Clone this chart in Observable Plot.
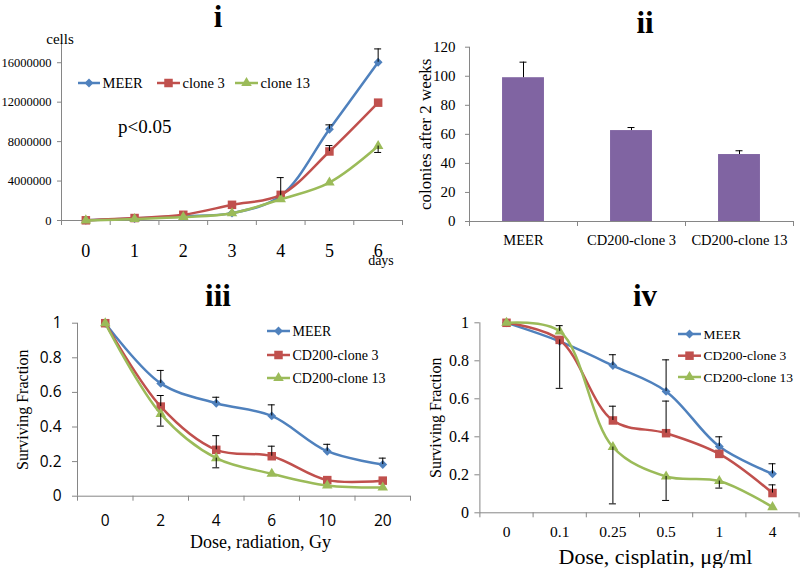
<!DOCTYPE html>
<html><head><meta charset="utf-8">
<script src="https://cdn.jsdelivr.net/npm/d3@7"></script>
<script src="https://cdn.jsdelivr.net/npm/@observablehq/plot@0.6"></script>
<style>
body{margin:0;background:#fff;}
#root{position:relative;width:800px;height:568px;overflow:hidden;background:#fff;}
#root > svg{position:absolute;margin:0;}
</style></head><body><div id="root"></div>
<script>
// ---------------- DATA ----------------
const seriesShort = ["MEER", "clone 3", "clone 13"];
const seriesLong = ["MEER", "CD200-clone 3", "CD200-clone 13"];
const colors = ["#4F81BD", "#C0504D", "#9BBB59"];
const symbols = ["diamond2", "square", "triangle"];

// (i) growth curve
const growthDays = ["0", "1", "2", "3", "4", "5", "6"];
const growthMEER    = [20000, 200000, 450000, 750000, 2500000, 9250000, 16050000];
const growthClone3  = [20000, 250000, 580000, 1590000, 2600000, 7000000, 11950000];
const growthClone13 = [10000, 150000, 350000, 740000, 2150000, 3850000, 7550000];
const growthErrMEER    = [null, null, null, null, 4350000, 9700000, 17400000];
const growthErrClone3  = [null, null, null, null, null, 7600000, null];
const growthErrClone13 = [null, null, null, null, null, null, 6900000];
const growthYTicks = [0, 4000000, 8000000, 12000000, 16000000];

// (ii) colonies
const colonyGroups = ["MEER", "CD200-clone 3", "CD200-clone 13"];
const colonyValues = [99, 62.6, 46.1];
const colonyErrTop = [109.7, 64.7, 48.7];
const colonyYTicks = [0, 20, 40, 60, 80, 100, 120];

// (iii) radiation
const radDoses = ["0", "2", "4", "6", "10", "20"];
const radMEER    = [1, 0.652, 0.537, 0.464, 0.26, 0.183];
const radClone3  = [1, 0.518, 0.268, 0.231, 0.093, 0.09];
const radClone13 = [1, 0.476, 0.22, 0.13, 0.062, 0.05];
const radErrMEER    = [null, 0.727, 0.572, 0.528, 0.30, 0.22];
const radErrClone3  = [null, 0.582, 0.35, 0.289, null, null];
const radErrClone13 = [null, 0.405, 0.164, null, null, null];

// (iv) cisplatin
const cisDoses = ["0", "0.1", "0.25", "0.5", "1", "4"];
const cisMEER    = [1, 0.902, 0.775, 0.639, 0.349, 0.205];
const cisClone3  = [1, 0.91, 0.486, 0.419, 0.31, 0.104];
const cisClone13 = [1, 0.955, 0.346, 0.191, 0.167, 0.03];
const cisErrMEER    = [null, null, 0.832, 0.805, 0.40, 0.258];
const cisErrClone3  = [null, 0.655, 0.561, 0.588, null, 0.147];
const cisErrClone13 = [null, 0.985, 0.047, 0.065, 0.13, null];

const fractionYTicks = [0, 0.2, 0.4, 0.6, 0.8, 1];

// ---------------- STYLE ----------------
const GRAY = "#868686";
const PURPLE = "#8064A2";
const SERIF = "Liberation Serif, Times New Roman, serif";
const SANS = "Open Sans, Noto Sans, sans-serif";
const symbolR = [4, 4.8, 3.9];
const d3Symbols = [d3.symbolDiamond2, d3.symbolSquare, d3.symbolTriangle];
const CAP = 3.5;

const root = document.getElementById("root");

function rowsFor(cats, values, errs) {
  return cats.map((c, i) => ({i, cat: c, value: values[i], err: errs ? errs[i] : null}));
}

function axes(o) {
  const n = o.cats.length;
  const bounds = d3.range(n + 1).map(j => j - 0.5);
  return [
    Plot.ruleY([0], {stroke: GRAY}),
    Plot.ruleX([-0.5], {stroke: GRAY}),
    Plot.axisY({ticks: o.yTicks, tickSize: o.yTickSize, tickPadding: o.yPad, stroke: GRAY,
      tickFormat: d => String(d), fontSize: o.yFont, fontFamily: o.tickFamily, label: null}),
    Plot.axisX({ticks: bounds, tickSize: 5, stroke: GRAY, tickFormat: () => "", label: null}),
    Plot.axisX({ticks: d3.range(n), tickSize: 0, tickPadding: o.xPad, tickFormat: i => o.cats[i],
      fontSize: o.xFont, fontFamily: o.tickFamily, label: null})
  ];
}

function errorMarks(rows) {
  const e = rows.filter(d => d.err != null);
  return [
    Plot.ruleX(e, {x: "i", y1: "value", y2: "err", stroke: "black", strokeWidth: 1}),
    Plot.ruleY(e, {x1: "i", x2: "i", y: "err", insetLeft: -CAP, insetRight: -CAP, stroke: "black", strokeWidth: 1})
  ];
}

function yTitle(label, dx, fs) {
  return Plot.text([label], {text: d => d, frameAnchor: "left", textAnchor: "middle", lineAnchor: "middle",
    dx, rotate: -90, fontSize: fs, fontFamily: SERIF});
}
function xTitle(label, dx, dy, fs) {
  return Plot.text([label], {text: d => d, frameAnchor: "bottom", textAnchor: "middle", lineAnchor: "middle",
    dx, dy, fontSize: fs, fontFamily: SERIF});
}

function linePanel(o) {
  const marks = axes(o);
  const all = o.series.map(s => rowsFor(o.cats, s.values, s.errs));
  all.forEach((rows, k) => {
    marks.push(Plot.line(rows, {x: "i", y: "value", stroke: colors[k], strokeWidth: 2.5, curve: "catmull-rom"}));
    marks.push(Plot.dot(rows, {x: "i", y: "value", symbol: symbols[k], fill: colors[k], stroke: "none", r: symbolR[k]}));
  });
  all.forEach(rows => marks.push(...errorMarks(rows)));
  marks.push(...(o.extra || []));
  const svg = Plot.plot({
    width: o.width, height: o.height,
    marginLeft: o.m[0], marginRight: o.m[1], marginTop: o.m[2], marginBottom: o.m[3],
    x: {type: "linear", domain: [-0.5, o.cats.length - 0.5]},
    y: {type: "linear", domain: o.yDomain},
    style: {fontFamily: SERIF, fontSize: "13px", color: "black", background: "transparent", overflow: "visible"},
    marks
  });
  svg.style.left = o.left + "px"; svg.style.top = o.top + "px";
  root.appendChild(svg);
}

// ---- Panel i ----
linePanel({
  left: 0, top: 0, width: 410, height: 270, m: [61, 8, 42.5, 50],
  cats: growthDays, yDomain: [0, 18000000], yTicks: growthYTicks,
  yTickSize: 4, yPad: 6, yFont: 12.5, xPad: 23.5, xFont: 18, tickFamily: SERIF,
  series: [
    {values: growthMEER, errs: growthErrMEER},
    {values: growthClone3, errs: growthErrClone3},
    {values: growthClone13, errs: growthErrClone13}
  ]
});

// ---- Panel ii ----
(function() {
  const o = {cats: colonyGroups, yTicks: colonyYTicks, yTickSize: 4, yPad: 10, yFont: 15, xPad: 13.3, xFont: 14.5, tickFamily: SERIF};
  const rows = colonyGroups.map((g, i) => ({i, cat: g, value: colonyValues[i], err: colonyErrTop[i]}));
  const BAR_HALF = 0.194;
  const marks = [
    Plot.rect(rows, {x1: d => d.i - BAR_HALF, x2: d => d.i + BAR_HALF, y1: 0, y2: "value", fill: PURPLE}),
    ...axes(o),
    ...errorMarks(rows),
    yTitle("colonies after 2 weeks", -44, 17)
  ];
  const svg = Plot.plot({
    width: 400, height: 270, marginLeft: 69, marginRight: 7, marginTop: 46.7, marginBottom: 49,
    x: {type: "linear", domain: [-0.5, 2.5]},
    y: {type: "linear", domain: [0, 120]},
    style: {fontFamily: SERIF, fontSize: "13px", color: "black", background: "transparent", overflow: "visible"},
    marks
  });
  svg.style.left = "400px"; svg.style.top = "0px";
  root.appendChild(svg);
})();

// ---- Panel iii ----
linePanel({
  left: 0, top: 270, width: 412, height: 298, m: [77, 2, 52.7, 72.3],
  cats: radDoses, yDomain: [0, 1], yTicks: fractionYTicks,
  yTickSize: 5, yPad: 11, yFont: 15.5, xPad: 18.5, xFont: 15.5, tickFamily: SANS,
  series: [
    {values: radMEER, errs: radErrMEER},
    {values: radClone3, errs: radErrClone3},
    {values: radClone13, errs: radErrClone13}
  ],
  extra: [
    xTitle("Dose, radiation, Gy", 16.5, 46, 18),
    yTitle("Surviving Fraction", -55, 16)
  ]
});

// ---- Panel iv ----
linePanel({
  left: 400, top: 270, width: 400, height: 298, m: [79.4, 1.4, 52.3, 55.7],
  cats: cisDoses, yDomain: [0, 1], yTicks: fractionYTicks,
  yTickSize: 5, yPad: 6, yFont: 16, xPad: 13.3, xFont: 15.5, tickFamily: SERIF,
  series: [
    {values: cisMEER, errs: cisErrMEER},
    {values: cisClone3, errs: cisErrClone3},
    {values: cisClone13, errs: cisErrClone13}
  ],
  extra: [
    xTitle("Dose, cisplatin, \u03bcg/ml", 16, 44.4, 22),
    yTitle("Surviving Fraction", -44, 16)
  ]
});

// ---------------- OVERLAY: titles, legends, notes ----------------
const ov = d3.select(root).append("svg")
  .attr("width", 800).attr("height", 568)
  .style("left", "0px").style("top", "0px")
  .attr("font-family", SERIF);

const titles = [
  {t: "i", x: 218, y: 27}, {t: "ii", x: 645, y: 33},
  {t: "iii", x: 218, y: 306}, {t: "iv", x: 645, y: 306}
];
titles.forEach(d => ov.append("text").attr("x", d.x).attr("y", d.y).attr("text-anchor", "middle")
  .attr("font-weight", "bold").attr("font-size", 31).text(d.t));

ov.append("text").attr("x", 60).attr("y", 44).attr("text-anchor", "middle").attr("font-size", 15).text("cells");
ov.append("text").attr("x", 381).attr("y", 264.5).attr("text-anchor", "middle").attr("font-size", 14).text("days");
ov.append("text").attr("x", 118).attr("y", 133).attr("font-size", 19).text("p<0.05");

function legendItem(x0, x1, cy, k, label, fs) {
  ov.append("line").attr("x1", x0).attr("x2", x1).attr("y1", cy).attr("y2", cy)
    .attr("stroke", colors[k]).attr("stroke-width", 2.5);
  ov.append("path").attr("transform", `translate(${(x0 + x1) / 2},${cy})`)
    .attr("d", d3.symbol(d3Symbols[k], Math.PI * symbolR[k] * symbolR[k])()).attr("fill", colors[k]);
  ov.append("text").attr("x", x1 + 2.5).attr("y", cy).attr("dy", "0.35em").attr("font-size", fs).text(label);
}
// legend i (horizontal)
[[78, 100], [157, 180], [235, 258]].forEach((p, k) => legendItem(p[0], p[1], 83, k, seriesShort[k], 14.5));
// legend iii
[331, 355, 378].forEach((y, k) => legendItem(267, 290, y, k, seriesLong[k], 14));
// legend iv
[334, 355.7, 377].forEach((y, k) => legendItem(678, 701, y, k, seriesLong[k], 13.5));
</script></body></html>
